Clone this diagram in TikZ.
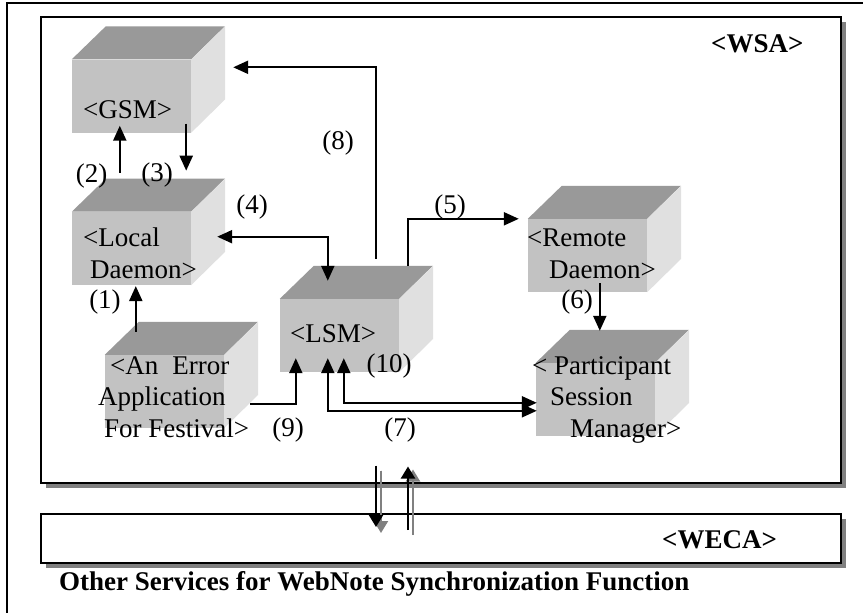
\documentclass[tikz,border=0pt]{standalone}
\usepackage{fontspec}
\setmainfont{Liberation Serif}
\usetikzlibrary{arrows.meta,positioning,shadows}

\definecolor{topgray}{gray}{0.6}
\definecolor{frontgray}{gray}{0.76}
\definecolor{sidegray}{gray}{0.88}
\definecolor{shadowgray}{gray}{0.5}

% top and right faces of a cube whose front face is node #1
\newcommand{\cubefaces}[1]{%
  \fill[topgray] (#1.north west) -- ++(34,-33) -- ++(119,0) -- (#1.north east) -- cycle;
  \fill[sidegray] (#1.north east) -- ++(34,-33) -- ++(0,73) -- (#1.south east) -- cycle;
}

\begin{document}
\begin{tikzpicture}[x=1pt,y=-1pt,>={Triangle[length=15pt,width=13pt]},
  every node/.style={inner sep=0pt,font=\fontsize{27}{31.5}\selectfont},
  frame/.style={draw,line width=1.5pt,fill=white,
    drop shadow={shadow xshift=5pt,shadow yshift=-5pt,fill=shadowgray,opacity=1}},
  front/.style={fill=frontgray,minimum width=119pt,minimum height=73pt},
  txt/.style={anchor=base west,align=left},
  num/.style={anchor=center},
  flow/.style={line width=2.2pt},
  link/.style={line width=2pt,-{Triangle[length=12pt,width=14pt]}},
  linkshadow/.style={link,draw=shadowgray,fill=shadowgray}]

\useasboundingbox (0,0) rectangle (863,613);
\draw[line width=1.5pt] (7,613) |- (863,3);

% the two service layers
\node[frame,anchor=north west,minimum width=800pt,minimum height=466pt] (wsa) at (40,16) {};
\node[frame,anchor=north west,minimum width=800pt,minimum height=49pt] (weca) at (40,513) {};
\node[txt,font=\fontsize{27}{31.5}\selectfont\bfseries] (wsa-name) at (711,52) {<WSA>};
\node[txt,font=\fontsize{27}{31.5}\selectfont\bfseries] (weca-name) at (662,548) {<WECA>};
\node[txt,font=\fontsize{27}{31.5}\selectfont\bfseries] (caption) at (59,590)
  {Other Services for WebNote Synchronization Function};

% cubes
\node[front] (gsm) at (131.5,96) {};
\node[front,below=79pt of gsm] (local) {};
\node[front] (lsm) at (339.5,335.5) {};
\node[front] (err) at (164.5,391.5) {};
\node[front] (rem) at (587.5,255.5) {};
\node[front] (psm) at (595.5,399.5) {};
\cubefaces{gsm}
\cubefaces{local}
\cubefaces{lsm}
\cubefaces{err}
\cubefaces{rem}
\cubefaces{psm}

% base of a multi-line text is its last line
\node[txt] (gsm-txt) at (83,118) {<GSM>};
\node[txt] (local-txt) at (83,278) {<Local\\\hspace*{7pt}Daemon>};
\node[txt] (lsm-txt) at (290,342) {<LSM>};
\node[txt] (err-txt) at (98,437)
  {\hspace*{12pt}<An\hspace*{14pt}Error\\Application\\\hspace*{6pt}For Festival>};
\node[txt] (rem-txt) at (527,278) {<Remote\\\hspace*{22pt}Daemon>};
\node[txt] (psm-txt) at (532,437) {< Participant\\\hspace*{18pt}Session\\\hspace*{38pt}Manager>};

% flows
\draw[flow,->] ([shift={(31,-23)}]err.north west) -- ([shift={(64,1)}]local.south west);
\draw[flow,->] ([shift={(48,-39)}]local.north west) -- ([shift={(48,-7)}]gsm.south west);
\draw[flow,->] ([shift={(-5,-9)}]gsm.south east) -- ([shift={(-5,-41)}]local.north east);
\draw[flow,<->] ([shift={(26,25)}]local.north east) -| ([shift={(48,-18)}]lsm.north west);
\draw[flow,->] ([shift={(128,-33)}]lsm.north west) |- ([shift={(-9,0)}]rem.north west);
\draw[flow,->] ([shift={(72,-9)}]rem.south west) -- ([shift={(64,-32)}]psm.north west);
\draw[flow,<->] ([shift={(48,-14)}]lsm.south west) |- ([shift={(1,48)}]psm.north west);
\draw[flow,<->] ([shift={(64,-14)}]lsm.south west) |- ([shift={(1,40)}]psm.north west);
\draw[flow,->] ([shift={(96,-40)}]lsm.north west) |- ([shift={(42,8)}]gsm.north east);
\draw[flow,->] ([shift={(26,49)}]err.north east) -| ([shift={(16,-14)}]lsm.south west);

\node[num] (l1) at (105,302) {(1)};
\node[num] (l2) at (91.5,176) {(2)};
\node[num] (l3) at (157,175) {(3)};
\node[num] (l4) at (252,207) {(4)};
\node[num] (l5) at (450,207) {(5)};
\node[num] (l6) at (577,302) {(6)};
\node[num] (l7) at (400,430) {(7)};
\node[num] (l8) at (338,143) {(8)};
\node[num] (l9) at (288,430) {(9)};
\node[num] (l10) at (389,366) {(10)};

% exchange between the layers
\draw[linkshadow] ([shift={(341,-13)}]wsa.south west) -- ([shift={(341,20)}]weca.north west);
\draw[link] ([shift={(336,-18)}]wsa.south west) -- ([shift={(336,14)}]weca.north west);
\draw[linkshadow] ([shift={(373,22)}]weca.north west) -- ([shift={(373,-14)}]wsa.south west);
\draw[link] ([shift={(368,17)}]weca.north west) -- ([shift={(368,-17)}]wsa.south west);

\end{tikzpicture}
\end{document}
